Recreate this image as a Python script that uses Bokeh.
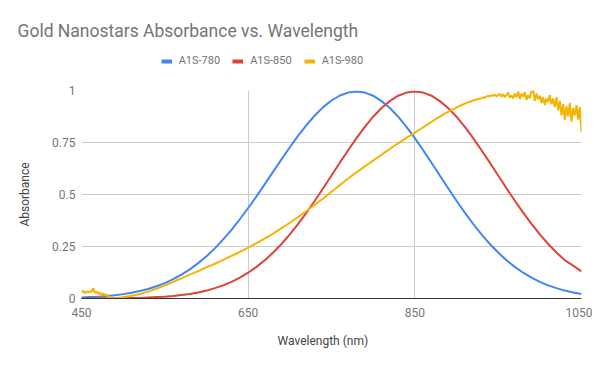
from bokeh.plotting import figure
from bokeh.models import Range1d, Legend, LegendItem, Title, FixedTicker, Spacer
from bokeh.layouts import column
from bokeh.embed import file_html
from bokeh.resources import INLINE

# ---------------- data ----------------
title_text = "Gold Nanostars Absorbance vs. Wavelength"
x_title = "Wavelength (nm)"
y_title = "Absorbance"
series_names = ["A1S-780", "A1S-850", "A1S-980"]
x_ticks = [450, 650, 850, 1050]
y_ticks = [0, 0.25, 0.5, 0.75, 1]
y_tick_labels = ["0", "0.25", "0.5", "0.75", "1"]

wl_780 = list(range(450, 1051, 10))
abs_780 = [0.005, 0.007, 0.009, 0.012, 0.016, 0.021, 0.028, 0.036, 0.046, 0.059,
           0.074, 0.093, 0.115, 0.140, 0.170, 0.203, 0.241, 0.284, 0.330, 0.381,
           0.435, 0.491, 0.550, 0.610, 0.669, 0.727, 0.783, 0.834, 0.880, 0.920,
           0.952, 0.976, 0.990, 0.995, 0.990, 0.975, 0.949, 0.916, 0.874, 0.825,
           0.771, 0.713, 0.653, 0.591, 0.530, 0.470, 0.413, 0.359, 0.308, 0.262,
           0.221, 0.184, 0.152, 0.124, 0.100, 0.080, 0.063, 0.050, 0.038, 0.029,
           0.022]

wl_850 = list(range(450, 1051, 10))
abs_850 = [0.000, 0.000, 0.001, 0.001, 0.001, 0.002, 0.002, 0.003, 0.005, 0.007,
           0.009, 0.012, 0.017, 0.022, 0.029, 0.038, 0.050, 0.063, 0.080, 0.100,
           0.124, 0.152, 0.184, 0.221, 0.262, 0.308, 0.359, 0.413, 0.470, 0.530,
           0.591, 0.653, 0.713, 0.771, 0.825, 0.874, 0.916, 0.949, 0.975, 0.990,
           0.995, 0.990, 0.975, 0.949, 0.916, 0.874, 0.825, 0.771, 0.713, 0.653,
           0.591, 0.530, 0.470, 0.413, 0.359, 0.308, 0.262, 0.221, 0.184, 0.158,
           0.130]

wl_980 = list(range(450, 510, 2)) + list(range(510, 930, 5)) + list(range(930, 1051, 2))
abs_980 = [0.030, 0.038, 0.026, 0.034, 0.029, 0.036, 0.031, 0.050, 0.027, 0.033,
           0.022, 0.028, 0.019, 0.024, 0.015, 0.020, 0.010, 0.006, 0.002, 0.000,
           0.004, 0.000, 0.002, 0.005, 0.003, 0.008, 0.006, 0.010, 0.009, 0.012,
           # 510 .. 925 step 5
           0.013, 0.017, 0.022, 0.027, 0.033, 0.040, 0.047, 0.055, 0.063, 0.072,
           0.080, 0.089, 0.097, 0.106, 0.115, 0.123, 0.132, 0.141, 0.150, 0.158,
           0.167, 0.176, 0.186, 0.195, 0.205, 0.214, 0.224, 0.234, 0.245, 0.255,
           0.266, 0.277, 0.289, 0.300, 0.312, 0.325, 0.338, 0.351, 0.364, 0.378,
           0.392, 0.406, 0.421, 0.436, 0.451, 0.466, 0.481, 0.497, 0.513, 0.529,
           0.545, 0.561, 0.577, 0.592, 0.607, 0.621, 0.635, 0.649, 0.663, 0.677,
           0.691, 0.705, 0.719, 0.733, 0.746, 0.759, 0.772, 0.785, 0.797, 0.810,
           0.823, 0.836, 0.849, 0.862, 0.874, 0.886, 0.897, 0.908, 0.918, 0.928,
           0.937, 0.945, 0.952, 0.958,
           # 930 .. 1050 step 2
           0.963, 0.967, 0.966, 0.971, 0.975, 0.971, 0.978, 0.974, 0.980, 0.972,
           0.977, 0.985, 0.970, 0.982, 0.968, 0.979, 0.990, 0.965, 0.976, 0.962,
           0.985, 0.968, 0.995, 0.960, 0.984, 0.970, 0.992, 0.955, 0.978, 0.962,
           0.998, 1.000, 0.950, 0.985, 0.958, 0.975, 0.940, 0.968, 0.930, 0.962,
           0.945, 0.978, 0.935, 0.962, 0.920, 0.968, 0.905, 0.950, 0.880, 0.935,
           0.860, 0.925, 0.875, 0.940, 0.850, 0.915, 0.880, 0.930, 0.860, 0.920,
           0.800]

colors = ["#4285F4", "#DB4437", "#F4B400"]
series_wl = [wl_780, wl_850, wl_980]
series_abs = [abs_780, abs_850, abs_980]
FONT = "Roboto"

# ---------------- header (title + legend) ----------------
h = figure(width=592, height=62, x_range=Range1d(0, 1), y_range=Range1d(0, 1),
           output_backend="svg", toolbar_location=None, title=title_text,
           x_axis_type=None, y_axis_type=None,
           min_border_left=0, min_border_right=0, min_border_top=0, min_border_bottom=0)
h.grid.visible = False
h.outline_line_color = None
h.background_fill_color = "white"
h.border_fill_color = "white"
h.title.align = "left"
h.title.offset = -64
h.title.standoff = 0
h.title.text_font = FONT
h.title.text_font_size = "17.5px"
h.title.text_font_style = "normal"
h.title.text_color = "#757575"

# legend swatches (series data lies outside this header's ranges, so only the legend shows)
swatches = [h.line(wl, ab, line_color=c, line_width=4)
            for wl, ab, c in zip(series_wl, series_abs, colors)]
legend = Legend(items=[LegendItem(label=n, renderers=[r]) for n, r in zip(series_names, swatches)],
                orientation="horizontal", location=(79.7, 13), padding=0, margin=0,
                spacing=12, glyph_width=11, glyph_height=12, label_standoff=7,
                label_text_font=FONT, label_text_font_size="11px", label_text_color="#757575",
                border_line_color=None, background_fill_alpha=0)
h.add_layout(legend)

# ---------------- main chart ----------------
p = figure(width=592, height=283, x_range=Range1d(450, 1050), y_range=Range1d(0, 1),
           output_backend="svg", toolbar_location=None, title=None,
           min_border_left=81, min_border_right=11, min_border_top=10, min_border_bottom=65)
p.outline_line_color = None
p.background_fill_color = "white"
p.border_fill_color = "white"

p.xaxis.ticker = FixedTicker(ticks=x_ticks)
p.yaxis.ticker = FixedTicker(ticks=y_ticks)
p.xgrid.ticker = FixedTicker(ticks=x_ticks)
p.ygrid.ticker = FixedTicker(ticks=y_ticks)
p.grid.grid_line_color = "#cccccc"
p.grid.grid_line_width = 1

p.yaxis.major_label_overrides = {t: l for t, l in zip(y_ticks, y_tick_labels)}
for ax in (p.xaxis, p.yaxis):
    ax.major_tick_line_color = None
    ax.minor_tick_line_color = None
    ax.major_tick_out = 0
    ax.major_tick_in = 0
    ax.major_label_text_font = FONT
    ax.major_label_text_font_size = "12px"
    ax.major_label_text_color = "#757575"
p.yaxis.axis_line_color = None
p.xaxis.axis_line_color = "#333333"
p.xaxis.major_label_standoff = 9
p.yaxis.major_label_standoff = 6

p.yaxis.axis_label = y_title
p.yaxis.axis_label_standoff = 17
p.yaxis.axis_label_text_font = FONT
p.yaxis.axis_label_text_font_size = "12px"
p.yaxis.axis_label_text_font_style = "normal"
p.yaxis.axis_label_text_color = "#444444"

for wl, ab, c in zip(series_wl, series_abs, colors):
    p.line(wl, ab, line_color=c, line_width=2)

p.add_layout(Title(text=x_title, align="left", offset=196, standoff=24,
                   text_font=FONT, text_font_size="12px", text_font_style="normal",
                   text_color="#444444"), "below")

layout = column(Spacer(width=592, height=18), h, p, spacing=0)
open("out.html", "w").write(file_html(layout, INLINE))
